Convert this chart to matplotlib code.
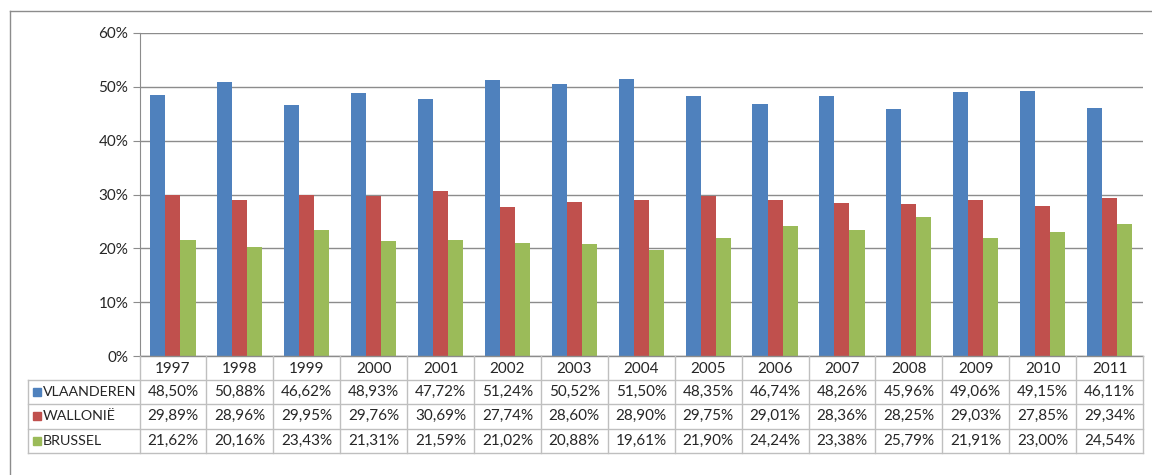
import matplotlib.pyplot as plt
import numpy as np
from matplotlib.lines import Line2D
from matplotlib.patches import Rectangle

plt.rcParams["font.family"] = ["Lato", "DejaVu Sans"]

YEARS = ["1997", "1998", "1999", "2000", "2001", "2002", "2003", "2004",
         "2005", "2006", "2007", "2008", "2009", "2010", "2011"]
REGIONS = ["VLAANDEREN", "WALLONIË", "BRUSSEL"]
VLAANDEREN = [48.50, 50.88, 46.62, 48.93, 47.72, 51.24, 50.52, 51.50,
              48.35, 46.74, 48.26, 45.96, 49.06, 49.15, 46.11]
WALLONIE = [29.89, 28.96, 29.95, 29.76, 30.69, 27.74, 28.60, 28.90,
            29.75, 29.01, 28.36, 28.25, 29.03, 27.85, 29.34]
BRUSSEL = [21.62, 20.16, 23.43, 21.31, 21.59, 21.02, 20.88, 19.61,
           21.90, 24.24, 23.38, 25.79, 21.91, 23.00, 24.54]
COLORS = ["#4F81BD", "#C0504D", "#9BBB59"]

W, H = 1152, 475
X_LEFT, X_RIGHT = 139.5, 1143
Y_TOP, Y_ZERO = 33, 356
ROW_LINES = [356, 379.5, 404, 428.5, 453]
TABLE_LEFT = 28
GRID = "#BFBFBF"
TEXT = "#262626"


def fx(x):
    return x / W


def fy(y):
    return 1 - y / H


fig = plt.figure(figsize=(W / 100, H / 100), dpi=100)
ax = fig.add_axes([fx(X_LEFT), fy(Y_ZERO), fx(X_RIGHT) - fx(X_LEFT), fy(Y_TOP) - fy(Y_ZERO)])

positions = np.arange(len(YEARS))
bar_w = 0.225
for i, (values, color) in enumerate(zip([VLAANDEREN, WALLONIE, BRUSSEL], COLORS)):
    ax.bar(positions + (i - 1) * bar_w, values, width=bar_w, color=color, zorder=3)

ax.set_xlim(-0.5, len(YEARS) - 0.5)
ax.set_ylim(0, 60)
ax.set_yticks(range(0, 61, 10), [f"{v}%" for v in range(0, 61, 10)])
ax.set_xticks([])
ax.grid(axis="y", color="#8C8C8C", linewidth=1.0, zorder=0)
for side in ["top", "right", "bottom"]:
    ax.spines[side].set_visible(False)
ax.spines["left"].set_color("#8C8C8C")
ax.tick_params(axis="y", length=5, color="#8C8C8C", labelsize=11, labelcolor=TEXT, pad=3)

# outer chart frame
fig.add_artist(Line2D([fx(10), 1], [fy(11), fy(11)], color="#8C8C8C", linewidth=1))
fig.add_artist(Line2D([fx(10), fx(10)], [fy(11), 0], color="#8C8C8C", linewidth=1))

# data table
col_w = (X_RIGHT - X_LEFT) / len(YEARS)
fig.add_artist(Line2D([fx(X_LEFT), fx(X_RIGHT)], [fy(Y_ZERO), fy(Y_ZERO)], color="#8C8C8C", linewidth=1))
for y in ROW_LINES[1:]:
    fig.add_artist(Line2D([fx(TABLE_LEFT), fx(X_RIGHT)], [fy(y), fy(y)], color=GRID, linewidth=1))
for k in range(len(YEARS) + 1):
    x = X_LEFT + k * col_w
    fig.add_artist(Line2D([fx(x), fx(x)], [fy(ROW_LINES[0]), fy(ROW_LINES[-1])], color=GRID, linewidth=1))
fig.add_artist(Line2D([fx(TABLE_LEFT), fx(TABLE_LEFT)], [fy(ROW_LINES[1]), fy(ROW_LINES[-1])], color=GRID, linewidth=1))

for k, year in enumerate(YEARS):
    cx = X_LEFT + (k + 0.5) * col_w
    fig.text(fx(cx), fy((ROW_LINES[0] + ROW_LINES[1]) / 2 + 1), year,
             ha="center", va="center", fontsize=11, color=TEXT)

for r, (name, values, color) in enumerate(zip(REGIONS, [VLAANDEREN, WALLONIE, BRUSSEL], COLORS)):
    cy = (ROW_LINES[r + 1] + ROW_LINES[r + 2]) / 2
    fig.add_artist(Rectangle((fx(33), fy(cy + 4)), fx(8), 8 / H, color=color))
    fig.text(fx(43), fy(cy), name, ha="left", va="center", fontsize=10.3, color=TEXT)
    for k, value in enumerate(values):
        cx = X_LEFT + (k + 0.5) * col_w
        fig.text(fx(cx), fy(cy), f"{value:.2f}%".replace(".", ","),
                 ha="center", va="center", fontsize=11, color=TEXT)

fig.savefig("out.png", dpi=100)
